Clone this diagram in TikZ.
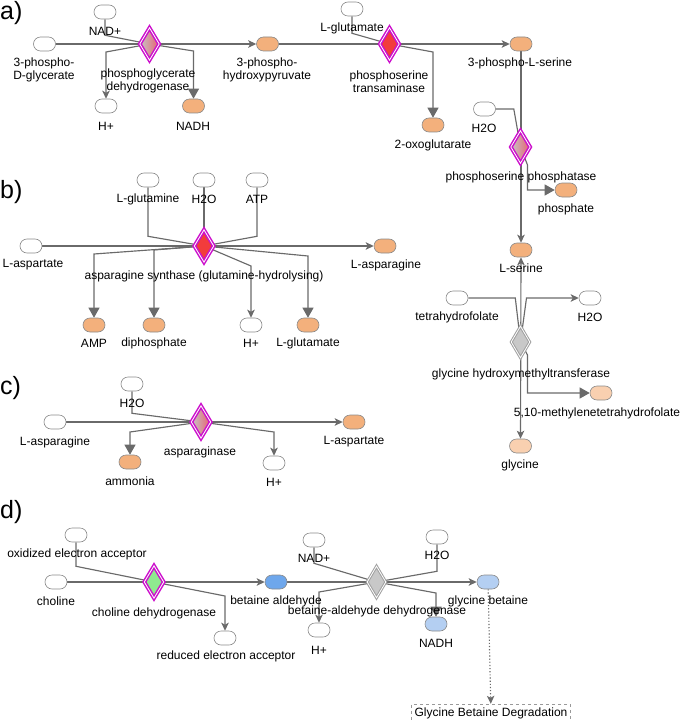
\documentclass[tikz,border=0pt]{standalone}
\usepackage{fontspec}
\setmainfont{Liberation Sans}
\usetikzlibrary{arrows.meta,shapes.geometric,positioning,backgrounds}

\definecolor{lncol}{HTML}{6A6A6A}
\definecolor{metline}{HTML}{8A8A8A}
\definecolor{orgmet}{HTML}{F3B07C}
\definecolor{peachmet}{HTML}{F9D0B0}
\definecolor{bluemet}{HTML}{6EA7EC}
\definecolor{lbluemet}{HTML}{B4CFF2}
\definecolor{enzmag}{HTML}{CC10CC}
\definecolor{enzred}{HTML}{F23C3C}
\definecolor{gradred}{HTML}{E86070}
\definecolor{enzgreen}{HTML}{8FEA8F}
\definecolor{enzgrey}{HTML}{C8C8C8}

\tikzset{
  sarr/.tip={Stealth[length=8pt,width=7.5pt,inset=2pt]},
  barr/.tip={Triangle[length=10pt,width=11pt]},
}

\begin{document}
\begin{tikzpicture}[x=1pt,y=-1pt,
    ln/.style={draw=lncol, line width=1.15pt},
    met/.style={rectangle, rounded corners=7pt, draw=metline, line width=0.6pt,
      fill=white, minimum width=22pt, minimum height=14pt, inner sep=0pt},
    orgm/.style={met, fill=orgmet},
    peachm/.style={met, fill=peachmet},
    bluem/.style={met, fill=bluemet},
    lbluem/.style={met, fill=lbluemet},
    enz/.style={diamond, draw=enzmag, line width=1.5pt, double=white,
      double distance=0.8pt, minimum width=20pt, minimum height=33pt, inner sep=0pt},
    enzgrad/.style={enz, left color=gray!45, right color=gradred},
    enzr/.style={enz, fill=enzred},
    enzg/.style={enz, fill=enzgreen},
    enzgr/.style={diamond, draw=gray!75, line width=1pt, double=white,
      double distance=0.8pt, fill=enzgrey, minimum width=19pt, minimum height=32pt, inner sep=0pt},
    lbl/.style={font=\fontsize{12}{13.5}\selectfont, inner sep=0pt, align=center},
    panel/.style={font=\fontsize{25}{28}\selectfont, inner sep=0pt, anchor=west},
  ]
\useasboundingbox (0,0) rectangle (685,722);

% panel letters
\node[panel] (pa) at (0,13) {a)};
\node[panel] (pb) at (0,192) {b)};
\node[panel] (pc) at (0,388) {c)};
\node[panel] (pd) at (0,512) {d)};

% a) serine synthesis
\node[met] (nadA) at (105,12) {};
\node[met] (pgly) at (44.5,44) {};
\node[enzgrad] (pgdh) at (149.5,44) {};
\node[met] (hA) at (106,106) {};
\node[orgm] (nadhA) at (193.5,106) {};
\node[orgm] (php) at (267.5,44) {};
\node[met] (gluA) at (352,9) {};
\node[enzr] (psat) at (389.5,44) {};
\node[orgm] (oxo) at (433,125) {};
\node[orgm] (pser) at (521,44) {};
\node[met] (h2oA) at (484.5,109) {};
\node[enzgrad] (psph) at (520.5,147) {};
\node[orgm] (pho) at (566,190) {};
\node[orgm] (ser) at (521,250) {};
\node[met] (thf) at (457,298) {};
\node[met] (h2oS) at (590,298) {};
\node[enzgr] (shmt) at (520.5,342) {};
\node[peachm] (mthf) at (601,393) {};
\node[peachm] (gly) at (520.5,446) {};

\node[lbl] (nadAl) at (105,31) {NAD+};
\node[lbl] (pglyl) at (44,70) {3-phospho-\\D-glycerate};
\node[lbl] (pgdhl) at (148,81) {phosphoglycerate\\dehydrogenase};
\node[lbl] (hAl) at (106,126) {H+};
\node[lbl] (nadhAl) at (193,126) {NADH};
\node[lbl] (phpl) at (267,70) {3-phospho-\\hydroxypyruvate};
\node[lbl] (gluAl) at (352,28) {L-glutamate};
\node[lbl] (psatl) at (389,81.5) {phosphoserine\\transaminase};
\node[lbl] (oxol) at (433,145) {2-oxoglutarate};
\node[lbl] (pserl) at (520,63) {3-phospho-L-serine};
\node[lbl] (h2oAl) at (484,128) {H2O};
\node[lbl] (psphl) at (521,177) {phosphoserine phosphatase};
\node[lbl] (phol) at (566,209) {phosphate};
\node[lbl] (serl) at (521,268) {L-serine};
\node[lbl] (thfl) at (457,317) {tetrahydrofolate};
\node[lbl] (h2oSl) at (590,317) {H2O};
\node[lbl] (shmtl) at (521,374) {glycine hydroxymethyltransferase};
\node[lbl] (mthfl) at (597,413) {5,10-methylenetetrahydrofolate};
\node[lbl] (glyl) at (520,465) {glycine};

% b) asparagine synthase
\node[met] (glnB) at (148,180) {};
\node[met] (h2oB) at (204,180) {};
\node[met] (atp) at (257,180) {};
\node[met] (aspB) at (31,246) {};
\node[enzr] (asns) at (204,246) {};
\node[orgm] (asnB) at (385,246) {};
\node[orgm] (amp) at (94,325) {};
\node[orgm] (ppi) at (154,325) {};
\node[met] (hB) at (251,325) {};
\node[orgm] (gluB) at (308,325) {};

\node[lbl] (glnBl) at (148,199) {L-glutamine};
\node[lbl] (h2oBl) at (204,199) {H2O};
\node[lbl] (atpl) at (257,199) {ATP};
\node[lbl] (aspBl) at (33,265) {L-aspartate};
\node[lbl] (asnBl) at (386,265) {L-asparagine};
\node[lbl] (asnsl) at (204,276) {asparagine synthase (glutamine-hydrolysing)};
\node[lbl] (ampl) at (94,343) {AMP};
\node[lbl] (ppil) at (154,343) {diphosphate};
\node[lbl] (hBl) at (251,343) {H+};
\node[lbl] (gluBl) at (308,343) {L-glutamate};

% c) asparaginase
\node[met] (h2oC) at (132,384) {};
\node[met] (asnC) at (55,422) {};
\node[enzgrad] (asnase) at (201,422) {};
\node[orgm] (aspC) at (354,422) {};
\node[orgm] (nh3) at (130,462) {};
\node[met] (hC) at (274,463) {};

\node[lbl] (h2oCl) at (132,403) {H2O};
\node[lbl] (asnCl) at (55,442) {L-asparagine};
\node[lbl] (aspCl) at (354,442) {L-aspartate};
\node[lbl] (asnasel) at (200,452) {asparaginase};
\node[lbl] (nh3l) at (130,481) {ammonia};
\node[lbl] (hCl) at (274,482) {H+};

% d) choline to glycine betaine
\node[met] (oxacc) at (76,535) {};
\node[met] (chol) at (56,582) {};
\node[enzg] (chdh) at (154,582) {};
\node[bluem] (betald) at (276,582) {};
\node[met] (redacc) at (225,638) {};
\node[met] (nadD) at (314,540) {};
\node[met] (h2oD) at (437,537) {};
\node[enzgr] (badh) at (376.5,582) {};
\node[met] (hD) at (319,630) {};
\node[lbluem] (nadhD) at (436,624) {};
\node[lbluem] (glybet) at (488,582) {};
\node[draw=gray!80, dashed, line width=0.6pt, font=\fontsize{12}{13.5}\selectfont,
  inner xsep=3pt, minimum height=16pt] (gbdeg) at (491,713) {Glycine Betaine Degradation};

\node[lbl] (oxaccl) at (77,554) {oxidized electron acceptor};
\node[lbl] (choll) at (56,601) {choline};
\node[lbl] (chdhl) at (154,613) {choline dehydrogenase};
\node[lbl] (betaldl) at (276,601) {betaine aldehyde};
\node[lbl] (redaccl) at (226,656) {reduced electron acceptor};
\node[lbl] (nadDl) at (314,558) {NAD+};
\node[lbl] (h2oDl) at (437,555) {H2O};
\node[lbl] (hDl) at (319,650) {H+};
\node[lbl] (nadhDl) at (436,643) {NADH};
\node[lbl] (glybetl) at (488,601) {glycine betaine};
\node[lbl] (badhl) at (377,611) {betaine-aldehyde dehydrogenase};

\begin{pgfonlayer}{background}
  % a)
  \draw[ln] (nadA.south) -- ++(0,16) -- (pgdh.center);
  \draw[ln,-{sarr}] (pgly) -- (php);
  \draw[ln,-{sarr}] (pgdh.center) -- (hA.north |- 0,52) -- (hA.north);
  \draw[ln,-{barr}] (pgdh.center) -- (nadhA.north |- 0,51) -- (nadhA.north);
  \draw[ln,-{sarr}] (php) -- (pser);
  \draw[ln] (gluA.south) -- ++(0,17) -- (psat.center);
  \draw[ln,-{barr}] (psat.center) -- (oxo.north |- 0,52) -- (oxo.north);
  \draw[ln,-{sarr}] (pser) -- (ser);
  \draw[ln] (h2oA.east) -- ++(18,0) -- (psph.center);
  \draw[ln,-{barr}] (psph.center) -- ++(7,18) |- (pho.west);
  \draw[ln,{sarr}-{sarr}] (ser) -- (gly);
  \draw[ln] (thf.east) -- ++(47,0) -- (shmt.center);
  \draw[ln,-{sarr}] (shmt.center) -- ++(6,-44) -- (h2oS.west);
  \draw[ln,-{barr}] (shmt.center) -- ++(7,13) |- (mthf.west);
  % b)
  \draw[ln] (glnB.south) -- ++(0,49) -- (asns.center);
  \draw[ln] (h2oB) -- (asns.center);
  \draw[ln] (atp.south) -- ++(0,49) -- (asns.center);
  \draw[ln,-{sarr}] (aspB) -- (asnB);
  \draw[ln,-{barr}] (asns.center) -- (amp.north |- 0,254) -- (amp.north);
  \draw[ln,-{barr}] (asns.center) -- (ppi.north |- 0,250) -- (ppi.north);
  \draw[ln,-{sarr}] (asns.center) -- (hB.north |- 0,266) -- (hB.north);
  \draw[ln,-{barr}] (asns.center) -- (gluB.north |- 0,256) -- (gluB.north);
  % c)
  \draw[ln] (h2oC.south) -- ++(0,22) -- (asnase.center);
  \draw[ln,-{sarr}] (asnC) -- (aspC);
  \draw[ln,-{barr}] (asnase.center) -- (nh3.north |- 0,432) -- (nh3.north);
  \draw[ln,-{sarr}] (asnase.center) -- (hC.north |- 0,432) -- (hC.north);
  % d)
  \draw[ln] (oxacc.south) -- ++(0,24) -- (chdh.center);
  \draw[ln,-{sarr}] (chol) -- (betald);
  \draw[ln,-{sarr}] (chdh.center) -- (redacc.north |- 0,596) -- (redacc.north);
  \draw[ln,-{sarr}] (betald) -- (glybet);
  \draw[ln] (nadD.south) -- ++(0,16) -- (badh.center);
  \draw[ln] (h2oD.south) -- ++(0,27) -- (badh.center);
  \draw[ln,-{sarr}] (badh.center) -- (hD.north |- 0,592) -- (hD.north);
  \draw[ln,-{barr}] (badh.center) -- (nadhD.north |- 0,593) -- (nadhD.north);
  \draw[ln,dotted,-{sarr}] (glybet) -- (gbdeg);
\end{pgfonlayer}
\end{tikzpicture}
\end{document}
